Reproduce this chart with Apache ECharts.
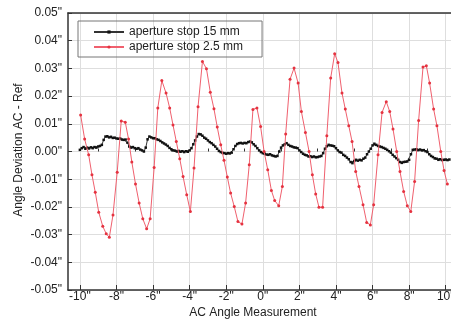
<!DOCTYPE html>
<html><head><meta charset="utf-8">
<script src="https://cdn.jsdelivr.net/npm/echarts@6/dist/echarts.min.js"></script>
<style>html,body{margin:0;padding:0;background:#fff}#c{width:451px;height:330px}</style>
</head><body><div id="c"></div>
<script>
const seriesNames = ['aperture stop 15 mm', 'aperture stop 2.5 mm'];
const xTickValues = [-10, -8, -6, -4, -2, 0, 2, 4, 6, 8, 10];
const xMinorTickValues = [-9, -7, -5, -3, -1, 1, 3, 5, 7, 9];
const redX = [-9.96,-9.74,-9.52,-9.34,-9.16,-8.97,-8.75,-8.56,-8.39,-8.19,-7.96,-7.74,-7.52,-7.34,-7.16,-6.96,-6.76,-6.56,-6.35,-6.16,-5.94,-5.74,-5.52,-5.29,-5.09,-4.91,-4.73,-4.54,-4.36,-4.16,-3.96,-3.76,-3.54,-3.3,-3.08,-2.87,-2.67,-2.49,-2.30,-2.12,-1.94,-1.76,-1.56,-1.36,-1.14,-0.94,-0.74,-0.54,-0.32,-0.12,0.07,0.27,0.47,0.65,0.87,1.07,1.25,1.49,1.71,1.93,2.11,2.33,2.53,2.71,2.89,3.07,3.27,3.5,3.71,3.93,4.11,4.33,4.51,4.70,4.88,5.08,5.26,5.48,5.68,5.88,6.06,6.30,6.52,6.75,6.94,7.12,7.32,7.50,7.70,7.90,8.09,8.30,8.52,8.76,8.94,9.12,9.34,9.52,9.73,9.91,10.09];
const redY = [0.0132,0.0045,-0.0012,-0.0084,-0.0147,-0.0219,-0.027,-0.0297,-0.031,-0.0229,-0.0075,0.011,0.0106,0.0045,-0.0038,-0.0117,-0.0186,-0.0243,-0.0279,-0.0243,-0.0058,0.0157,0.0256,0.0211,0.0157,0.0096,0.0036,-0.0026,-0.009,-0.0156,-0.0217,-0.006,0.0162,0.0325,0.0299,0.0214,0.0154,0.0088,0.0024,-0.0032,-0.0092,-0.015,-0.0199,-0.0253,-0.0262,-0.0186,-0.0048,0.0152,0.0157,0.009,0.0,-0.0066,-0.0141,-0.0177,-0.0196,-0.0126,0.0063,0.0261,0.0301,0.0247,0.0144,0.0069,0.0,-0.0084,-0.0153,-0.0201,-0.0201,0.0057,0.0265,0.0353,0.0321,0.0211,0.0153,0.0093,0.0036,-0.0072,-0.0126,-0.0192,-0.0256,-0.0265,-0.0192,-0.0012,0.0141,0.018,0.0144,0.0081,0.0,-0.0072,-0.0144,-0.0196,-0.0217,-0.0108,0.0112,0.0305,0.031,0.0247,0.0153,0.0093,0.0,-0.0069,-0.0117];
const blackX = [-10.0,-9.9,-9.8,-9.7,-9.6,-9.5,-9.4,-9.3,-9.2,-9.1,-9.0,-8.9,-8.8,-8.7,-8.6,-8.5,-8.4,-8.3,-8.2,-8.1,-8.0,-7.9,-7.8,-7.7,-7.6,-7.5,-7.4,-7.3,-7.2,-7.1,-7.0,-6.9,-6.8,-6.7,-6.6,-6.5,-6.4,-6.3,-6.2,-6.1,-6.0,-5.9,-5.8,-5.7,-5.6,-5.5,-5.4,-5.3,-5.2,-5.1,-5.0,-4.9,-4.8,-4.7,-4.6,-4.5,-4.4,-4.3,-4.2,-4.1,-4.0,-3.9,-3.8,-3.7,-3.6,-3.5,-3.4,-3.3,-3.2,-3.1,-3.0,-2.9,-2.8,-2.7,-2.6,-2.5,-2.4,-2.3,-2.2,-2.1,-2.0,-1.9,-1.8,-1.7,-1.6,-1.5,-1.4,-1.3,-1.2,-1.1,-1.0,-0.9,-0.8,-0.7,-0.6,-0.5,-0.4,-0.3,-0.2,-0.1,0.0,0.1,0.2,0.3,0.4,0.5,0.6,0.7,0.8,0.9,1.0,1.1,1.2,1.3,1.4,1.5,1.6,1.7,1.8,1.9,2.0,2.1,2.2,2.3,2.4,2.5,2.6,2.7,2.8,2.9,3.0,3.1,3.2,3.3,3.4,3.5,3.6,3.7,3.8,3.9,4.0,4.1,4.2,4.3,4.4,4.5,4.6,4.7,4.8,4.9,5.0,5.1,5.2,5.3,5.4,5.5,5.6,5.7,5.8,5.9,6.0,6.1,6.2,6.3,6.4,6.5,6.6,6.7,6.8,6.9,7.0,7.1,7.2,7.3,7.4,7.5,7.6,7.7,7.8,7.9,8.0,8.1,8.2,8.3,8.4,8.5,8.6,8.7,8.8,8.9,9.0,9.1,9.2,9.3,9.4,9.5,9.6,9.7,9.8,9.9,10.0,10.1,10.2];
const blackY = [0.0006,0.0012,0.0016,0.0010,0.0014,0.0011,0.0015,0.0012,0.0016,0.0014,
0.0018,0.0020,0.0024,0.0042,0.0054,0.0055,0.0051,0.0053,0.0049,0.0050,
0.0047,0.0046,0.0047,0.0043,0.0042,0.0043,0.0032,0.0018,0.0014,0.0016,
0.0012,0.0010,0.0012,0.0007,0.0004,0.0000,0.0014,0.0044,0.0054,0.0051,
0.0048,0.0048,0.0044,0.0042,0.0038,0.0033,0.0029,0.0025,0.0020,0.0013,
0.0008,0.0004,0.0003,0.0000,0.0002,-0.0001,0.0001,-0.0002,0.0001,-0.0001,
0.0004,0.0012,0.0026,0.0040,0.0054,0.0063,0.0062,0.0057,0.0050,0.0046,
0.0040,0.0034,0.0030,0.0024,0.0018,0.0010,0.0002,-0.0002,-0.0005,-0.0006,
-0.0008,-0.0006,-0.0007,-0.0004,0.0008,0.0020,0.0027,0.0030,0.0031,0.0029,
0.0031,0.0030,0.0034,0.0036,0.0033,0.0026,0.0020,0.0012,0.0004,-0.0002,
-0.0006,-0.0008,-0.0011,-0.0012,-0.0010,-0.0014,-0.0016,-0.0018,-0.0016,0.0000,
0.0014,0.0022,0.0026,0.0030,0.0024,0.0020,0.0018,0.0015,0.0014,0.0012,
0.0004,-0.0002,-0.0008,-0.0012,-0.0014,-0.0018,-0.0017,-0.0020,-0.0018,-0.0021,
-0.0020,-0.0018,-0.0016,-0.0006,0.0010,0.0019,0.0024,0.0022,0.0021,0.0019,
0.0012,0.0004,-0.0002,-0.0004,-0.0012,-0.0016,-0.0022,-0.0028,-0.0038,-0.0042,
-0.0034,-0.0030,-0.0033,-0.0030,-0.0032,-0.0026,-0.0022,-0.0010,0.0000,0.0010,
0.0022,0.0028,0.0024,0.0020,0.0018,0.0016,0.0013,0.0010,0.0006,0.0001,
-0.0004,-0.0012,-0.0018,-0.0024,-0.0030,-0.0038,-0.0041,-0.0038,-0.0037,-0.0036,
-0.0030,-0.0010,0.0006,0.0007,0.0008,0.0005,0.0007,0.0004,0.0005,0.0001,
-0.0002,-0.0010,-0.0016,-0.0020,-0.0025,-0.0026,-0.0030,-0.0028,-0.0031,-0.0030,
-0.0029,-0.0031,-0.0029];
const xTitle = 'AC Angle Measurement';
const yTitle = 'Angle Deviation AC - Ref';

const FONT = '"Liberation Sans", Arial, sans-serif';
const TXT = '#222';
const chart = echarts.init(document.getElementById('c'), null, {renderer: 'canvas'});
const zip = (xs, ys) => xs.map((x, i) => [x, ys[i]]);
const xBase = {type: 'value', min: -10.65, max: 11, gridIndex: 0};
chart.setOption({
  animation: false,
  backgroundColor: '#fff',
  textStyle: {fontFamily: FONT},
  grid: {left: 68, top: 13, width: 396, height: 277, containLabel: false, outerBoundsMode: 'none'},
  legend: {
    orient: 'vertical', left: 78, top: 21,
    data: seriesNames,
    borderColor: '#777', borderWidth: 1, borderRadius: 0,
    padding: [4, 19, 3, 15],
    itemWidth: 30, itemHeight: 4, itemGap: 1,
    textStyle: {fontSize: 12, color: TXT, fontFamily: FONT, lineHeight: 14}
  },
  xAxis: [
    Object.assign({}, xBase, {
      position: 'bottom',
      axisLine: {show: true, onZero: false, lineStyle: {color: '#333', width: 1.5}},
      axisTick: {show: true, inside: true, length: 5, customValues: xTickValues, lineStyle: {color: '#333'}},
      axisLabel: {show: true, customValues: xTickValues, margin: 1, fontSize: 12, color: TXT, fontFamily: FONT,
        formatter: v => v + '"', hideOverlap: false},
      splitLine: {show: true, lineStyle: {color: '#dedede', width: 1}}
    }),
    Object.assign({}, xBase, {
      position: 'bottom',
      axisLine: {show: false},
      axisTick: {show: true, inside: true, length: 3, customValues: xMinorTickValues, lineStyle: {color: '#333'}},
      axisLabel: {show: false},
      splitLine: {show: false}
    }),
    Object.assign({}, xBase, {
      position: 'top',
      axisLine: {show: true, onZero: false, lineStyle: {color: '#333', width: 1.5}},
      axisTick: {show: false}, axisLabel: {show: false}, splitLine: {show: false}
    })
  ],
  yAxis: {
    type: 'value', min: -0.05, max: 0.05, interval: 0.01,
    axisLine: {show: true, onZero: false, lineStyle: {color: '#333', width: 1.5}},
    axisTick: {show: true, inside: true, length: 4, lineStyle: {color: '#333'}},
    axisLabel: {margin: 6, fontSize: 12, color: TXT, fontFamily: FONT,
      formatter: v => (Math.abs(v) < 1e-9 ? 0 : v).toFixed(2) + '"'},
    splitLine: {show: true, lineStyle: {color: '#dedede', width: 1}}
  },
  graphic: [
    {type: 'text', x: 253, y: 313, style: {text: xTitle, fontSize: 12, fill: TXT, fontFamily: FONT, textAlign: 'center', textVerticalAlign: 'middle'}},
    {type: 'text', x: 19, y: 150, rotation: Math.PI / 2, style: {text: yTitle, fontSize: 12, fill: TXT, fontFamily: FONT, textAlign: 'center', textVerticalAlign: 'middle'}}
  ],
  series: [
    {
      name: seriesNames[0], type: 'line', xAxisIndex: 0,
      data: zip(blackX, blackY),
      symbol: 'rect', symbolSize: 2.5, showSymbol: true,
      itemStyle: {color: '#111'},
      lineStyle: {color: '#333', width: 1},
      z: 3
    },
    {
      name: seriesNames[1], type: 'line', xAxisIndex: 0,
      data: zip(redX, redY),
      symbol: 'circle', symbolSize: 3, showSymbol: true,
      itemStyle: {color: '#e53340'},
      lineStyle: {color: '#f0606e', width: 1},
      z: 4
    }
  ]
});
</script></body></html>
